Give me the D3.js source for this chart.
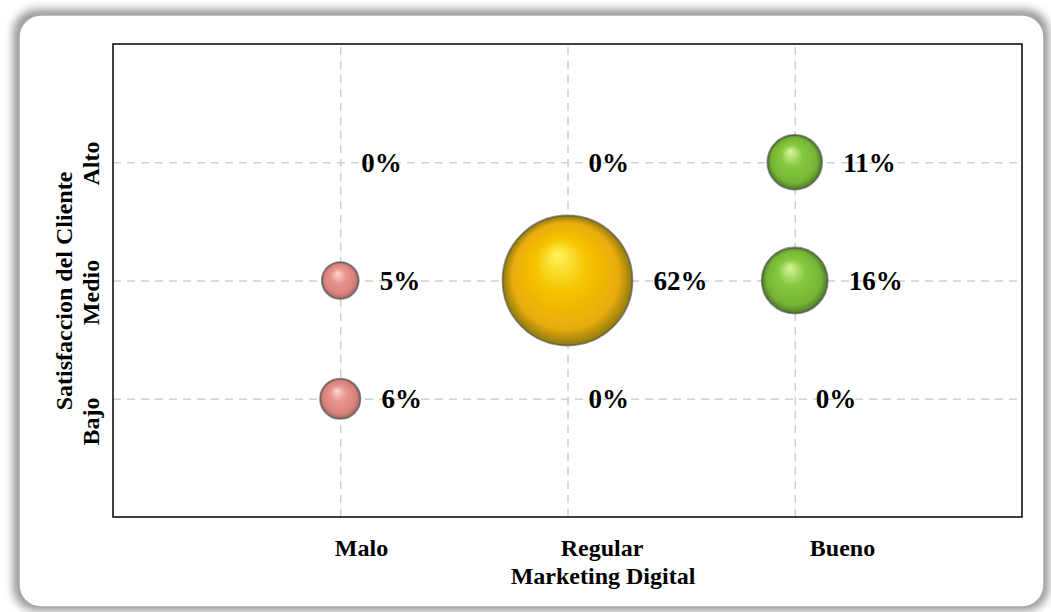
<!DOCTYPE html>
<html>
<head>
<meta charset="utf-8">
<script src="https://cdn.jsdelivr.net/npm/d3@7/dist/d3.min.js"></script>
<style>
  html, body { margin: 0; padding: 0; background: #ffffff; }
  svg { display: block; }
  text { font-family: "Liberation Serif", "Times New Roman", serif; font-weight: bold; fill: #000; }
</style>
</head>
<body>
<svg id="chart" width="1051" height="612"></svg>
<script>
// Categories on each axis
const xCategories = ["Malo", "Regular", "Bueno"];
const yCategories = ["Bajo", "Medio", "Alto"];

// Percentage of respondents per Marketing Digital level, ordered Bajo, Medio, Alto
const maloValues = [6, 5, 0];
const regularValues = [0, 62, 0];
const buenoValues = [0, 16, 11];

const seriesValues = [maloValues, regularValues, buenoValues];

const xTitle = "Marketing Digital";
const yTitle = "Satisfaccion del Cliente";

// Bubble palettes per column: [highlight, base, shade, edge]
const palettes = [
  ["#fcd6cf", "#e8958d", "#d9817b", "#9a6466"],
  ["#fff45c", "#f6c400", "#e9ab0a", "#8f7a10"],
  ["#d9f79c", "#86c840", "#76b534", "#4b7a2a"]
];

const svg = d3.select("#chart");

const plot = { left: 113, right: 1022, top: 44, bottom: 517 };

const defs = svg.append("defs");

// Soft shadow around the panel
const shadow = defs.append("filter").attr("id", "panelShadow")
  .attr("x", "-5%").attr("y", "-5%").attr("width", "110%").attr("height", "110%");
shadow.append("feGaussianBlur").attr("stdDeviation", 4);

// Slight softening of the bubble rims
const soft = defs.append("filter").attr("id", "soft")
  .attr("x", "-10%").attr("y", "-10%").attr("width", "120%").attr("height", "120%");
soft.append("feGaussianBlur").attr("stdDeviation", 0.6);

// Sphere shading per palette
palettes.forEach((p, i) => {
  const g = defs.append("radialGradient").attr("id", "sphere" + i)
    .attr("cx", "0.5").attr("cy", "0.5").attr("r", "0.5")
    .attr("fx", "0.42").attr("fy", "0.3");
  g.append("stop").attr("offset", "0%").attr("stop-color", p[0]);
  g.append("stop").attr("offset", "40%").attr("stop-color", p[1]);
  g.append("stop").attr("offset", "82%").attr("stop-color", p[2]);
  g.append("stop").attr("offset", "100%").attr("stop-color", p[3]);
});

// Panel background
svg.append("rect")
  .attr("x", 13).attr("y", 9).attr("width", 1036).attr("height", 602)
  .attr("rx", 24).attr("fill", "#9a9a9a").attr("filter", "url(#panelShadow)");
svg.append("rect")
  .attr("x", 19).attr("y", 15).attr("width", 1025).attr("height", 592)
  .attr("rx", 22).attr("fill", "#ffffff").attr("stroke", "#a8a8a8").attr("stroke-width", 1.5);

const x = d3.scaleLinear().domain([0, 4]).range([plot.left, plot.right]);
const y = d3.scaleLinear().domain([0, 4]).range([plot.bottom, plot.top]);
const r = d3.scaleSqrt().domain([0, 62]).range([0, 65]);

// Category label rows sit on their own evenly spaced positions
const xLabelPos = d3.scalePoint().domain(xCategories).range([361, 842]);
const yLabelPos = d3.scalePoint().domain(yCategories).range([421, 163]);

const ticks = [1, 2, 3];

// Dashed grid
const grid = svg.append("g").attr("class", "grid");
grid.append("g")
  .attr("transform", `translate(0,${plot.bottom})`)
  .call(d3.axisBottom(x).tickValues(ticks).tickSize(-(plot.bottom - plot.top)).tickFormat(""))
  .call(g => g.select(".domain").remove());
grid.append("g")
  .attr("transform", `translate(${plot.left},0)`)
  .call(d3.axisLeft(y).tickValues(ticks).tickSize(-(plot.right - plot.left)).tickFormat(""))
  .call(g => g.select(".domain").remove());
grid.selectAll("line")
  .attr("stroke", "#cfcfcf").attr("stroke-width", 1.5).attr("stroke-dasharray", "8,6");

// Plot frame
svg.append("rect")
  .attr("x", plot.left).attr("y", plot.top)
  .attr("width", plot.right - plot.left).attr("height", plot.bottom - plot.top)
  .attr("fill", "none").attr("stroke", "#000").attr("stroke-width", 1.5);

// Category labels
const xAxis = svg.append("g")
  .attr("transform", "translate(0,556)")
  .call(d3.axisBottom(xLabelPos).tickSize(0).tickPadding(0));
xAxis.select(".domain").remove();
xAxis.selectAll("text")
  .attr("font-size", 24).attr("font-family", null).attr("fill", "#000")
  .attr("y", 0).attr("dy", null);

const yAxis = svg.append("g").attr("transform", "translate(99,0)")
  .call(d3.axisLeft(yLabelPos).tickSize(0).tickPadding(0));
yAxis.select(".domain").remove();
yAxis.selectAll(".tick text")
  .attr("font-size", 24).attr("font-family", null).attr("fill", "#000")
  .attr("x", null).attr("dy", null)
  .attr("text-anchor", "middle")
  .attr("transform", "rotate(-90)");

// Axis titles
svg.append("text")
  .attr("x", 603).attr("y", 584)
  .attr("text-anchor", "middle").attr("font-size", 24)
  .text(xTitle);
svg.append("text")
  .attr("transform", "translate(72,291) rotate(-90)")
  .attr("text-anchor", "middle").attr("font-size", 24)
  .text(yTitle);

// Bubbles and value labels
const points = [];
seriesValues.forEach((vals, i) => {
  vals.forEach((v, j) => points.push({ xi: i, yi: j, value: v }));
});

const marks = svg.append("g");
marks.selectAll("circle")
  .data(points.filter(d => d.value > 0))
  .join("circle")
  .attr("cx", d => x(d.xi + 1))
  .attr("cy", d => y(d.yi + 1))
  .attr("r", d => r(d.value))
  .attr("fill", d => `url(#sphere${d.xi})`)
  .attr("stroke", "rgba(70,75,70,0.6)")
  .attr("stroke-width", 1.8)
  .attr("filter", "url(#soft)");

marks.selectAll("text")
  .data(points)
  .join("text")
  .attr("x", d => x(d.xi + 1) + r(d.value) + 21)
  .attr("y", d => y(d.yi + 1))
  .attr("dy", "0.35em")
  .attr("font-size", 27)
  .text(d => d.value + "%");
</script>
</body>
</html>
